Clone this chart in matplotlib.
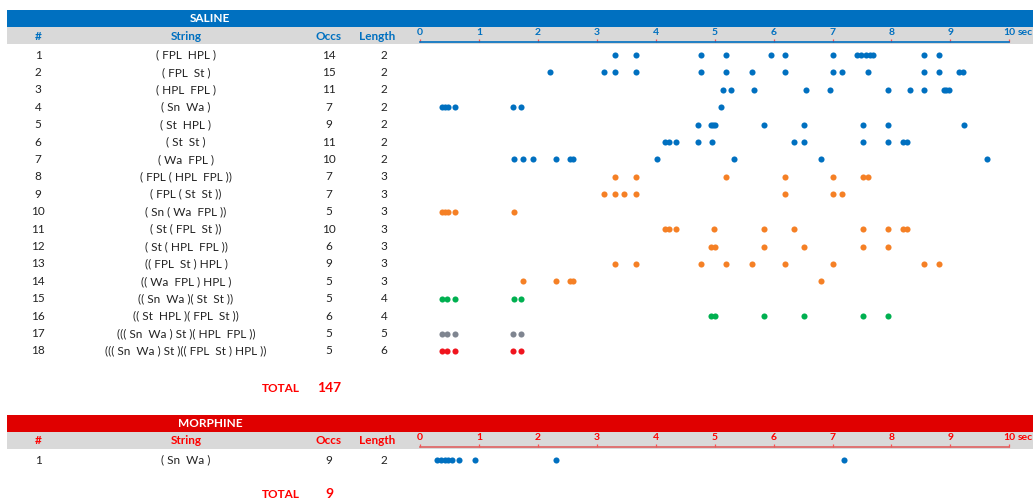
import matplotlib
matplotlib.use("Agg")
from matplotlib import pyplot as plt
from matplotlib.patches import Rectangle

plt.rcParams['font.family'] = ['Lato', 'DejaVu Sans']

saline_strings = [
    "( FPL  HPL )", "( FPL  St )", "( HPL  FPL )", "( Sn  Wa )", "( St  HPL )",
    "( St  St )", "( Wa  FPL )", "( FPL ( HPL  FPL ))", "( FPL ( St  St ))",
    "( Sn ( Wa  FPL ))", "( St ( FPL  St ))", "( St ( HPL  FPL ))",
    "(( FPL  St ) HPL )", "(( Wa  FPL ) HPL )", "(( Sn  Wa )( St  St ))",
    "(( St  HPL )( FPL  St ))", "((( Sn  Wa ) St )( HPL  FPL ))",
    "((( Sn  Wa ) St )(( FPL  St ) HPL ))",
]
saline_occs = [14, 15, 11, 7, 9, 11, 10, 7, 7, 5, 10, 6, 9, 5, 5, 6, 5, 5]
saline_lengths = [2, 2, 2, 2, 2, 2, 2, 3, 3, 3, 3, 3, 3, 3, 4, 4, 5, 6]
saline_times = [
    [3.31, 3.67, 4.76, 5.19, 5.95, 6.20, 7.00, 7.41, 7.48, 7.56, 7.63, 7.69, 8.55, 8.80],
    [2.20, 3.12, 3.31, 3.67, 4.76, 5.19, 5.63, 6.20, 7.00, 7.16, 7.60, 8.55, 8.80, 9.15, 9.22],
    [5.15, 5.27, 5.67, 6.55, 6.95, 7.95, 8.32, 8.55, 8.90, 8.93, 8.97],
    [0.37, 0.42, 0.47, 0.59, 1.58, 1.71, 5.11],
    [4.71, 4.93, 4.97, 5.00, 5.84, 6.52, 7.51, 7.95, 9.23],
    [4.15, 4.22, 4.35, 4.71, 4.95, 6.35, 6.52, 7.51, 7.95, 8.19, 8.26],
    [1.60, 1.75, 1.92, 2.31, 2.55, 2.60, 4.03, 5.32, 6.80, 9.63],
    [3.31, 3.67, 5.19, 6.19, 7.00, 7.51, 7.60],
    [3.12, 3.31, 3.47, 3.67, 6.19, 7.00, 7.16],
    [0.37, 0.42, 0.47, 0.59, 1.60],
    [4.15, 4.22, 4.35, 4.99, 5.84, 6.35, 7.51, 7.95, 8.19, 8.26],
    [4.94, 5.00, 5.84, 6.52, 7.51, 7.95],
    [3.31, 3.67, 4.76, 5.19, 5.63, 6.19, 7.00, 8.55, 8.80],
    [1.75, 2.31, 2.55, 2.60, 6.80],
    [0.37, 0.45, 0.59, 1.60, 1.71],
    [4.94, 5.00, 5.84, 6.52, 7.51, 7.95],
    [0.37, 0.45, 0.59, 1.58, 1.71],
    [0.37, 0.45, 0.59, 1.58, 1.71],
]

morphine_strings = ["( Sn  Wa )"]
morphine_occs = [9]
morphine_lengths = [2]
morphine_times = [[0.28, 0.35, 0.42, 0.48, 0.55, 0.66, 0.94, 2.30, 7.20]]

tick_values = list(range(11))
tick_labels = [str(v) for v in tick_values]
length_colors = {2: '#0070C0', 3: '#F58025', 4: '#00B050', 5: '#7F8590', 6: '#F0141E'}

BLUE = '#0070C0'
RED = '#E00000'
GRAY = '#D9D9D9'
W, H = 1033, 503
ROW_H = 17.41


def add_timeline(fig, ruler_px, first_row_px, n_rows, axis_color, label_color, times, lengths):
    left, right = 420, 1009.3
    bottom_px = first_row_px + (n_rows - 0.5) * ROW_H
    ax = fig.add_axes([left / W, 1 - bottom_px / H, (right - left) / W, (bottom_px - ruler_px) / H])
    ax.set_xlim(0, 10)
    ax.set_ylim(n_rows + 0.5, 1 - (first_row_px - ruler_px) / ROW_H)
    ax.patch.set_alpha(0)
    for side in ['left', 'right', 'bottom']:
        ax.spines[side].set_visible(False)
    ax.spines['top'].set_color(axis_color)
    ax.spines['top'].set_linewidth(1.2)
    ax.xaxis.tick_top()
    ax.set_xticks(tick_values)
    ax.set_xticklabels(tick_labels, fontweight='bold')
    ax.tick_params(axis='x', direction='out', length=2.5, width=0.9, color='#FF5050',
                   labelcolor=label_color, labelsize=7.5, pad=1)
    ax.set_yticks([])
    ax.annotate('sec', xy=(10, 1), xycoords=('data', 'axes fraction'), xytext=(6, 3.5),
                textcoords='offset points', ha='left', va='bottom', fontsize=7.5,
                fontweight='bold', color=label_color, annotation_clip=False)
    for i, (row_times, length) in enumerate(zip(times, lengths)):
        ax.plot(row_times, [i + 1] * len(row_times), 'o', ms=4.4, mew=0,
                color=length_colors[length], clip_on=False)
    return ax


def draw_table(bg, title, bar_color, text_color, top_px, strings, occs, lengths, total_px):
    bg.add_patch(Rectangle((7, top_px), W - 7, 17, color=bar_color, lw=0))
    bg.add_patch(Rectangle((7, top_px + 17), W - 7, 17, color=GRAY, lw=0))
    bg.text(210, top_px + 8.5, title, color='white', fontweight='bold', fontsize=8.5,
            ha='center', va='center')
    head_y = top_px + 26
    for x, label in [(38, '#'), (186, 'String'), (329, 'Occs'), (377, 'Length')]:
        bg.text(x, head_y, label, color=text_color, fontweight='bold', fontsize=8.5,
                ha='center', va='center')
    row0 = top_px + 45
    for i, (s, o, l) in enumerate(zip(strings, occs, lengths)):
        y = row0 + i * ROW_H
        bg.text(38, y, str(i + 1), fontsize=8.5, ha='center', va='center', color='#222222')
        bg.text(186, y, s, fontsize=8.5, ha='center', va='center', color='#222222')
        bg.text(329, y, str(o), fontsize=8.5, ha='center', va='center', color='#222222')
        bg.text(384, y, str(l), fontsize=8.5, ha='center', va='center', color='#222222')
    bg.text(281, total_px, 'TOTAL', color='#FF0000', fontweight='bold', fontsize=8.5,
            ha='center', va='center')
    bg.text(329, total_px, str(sum(occs)), color='#FF0000', fontweight='bold', fontsize=10,
            ha='center', va='center')
    return row0


fig = plt.figure(figsize=(W / 100, H / 100), dpi=100)
bg = fig.add_axes([0, 0, 1, 1])
bg.set_xlim(0, W)
bg.set_ylim(H, 0)
bg.axis('off')

row0 = draw_table(bg, 'SALINE', BLUE, BLUE, 10, saline_strings, saline_occs, saline_lengths, 388)
add_timeline(fig, 41.7, row0, len(saline_strings), BLUE, BLUE, saline_times, saline_lengths)

row0 = draw_table(bg, 'MORPHINE', RED, '#FF0000', 415, morphine_strings, morphine_occs,
                  morphine_lengths, 494)
add_timeline(fig, 446.7, row0, len(morphine_strings), '#E06060', '#FF0000', morphine_times,
             morphine_lengths)

fig.savefig('out.png', dpi=100)
